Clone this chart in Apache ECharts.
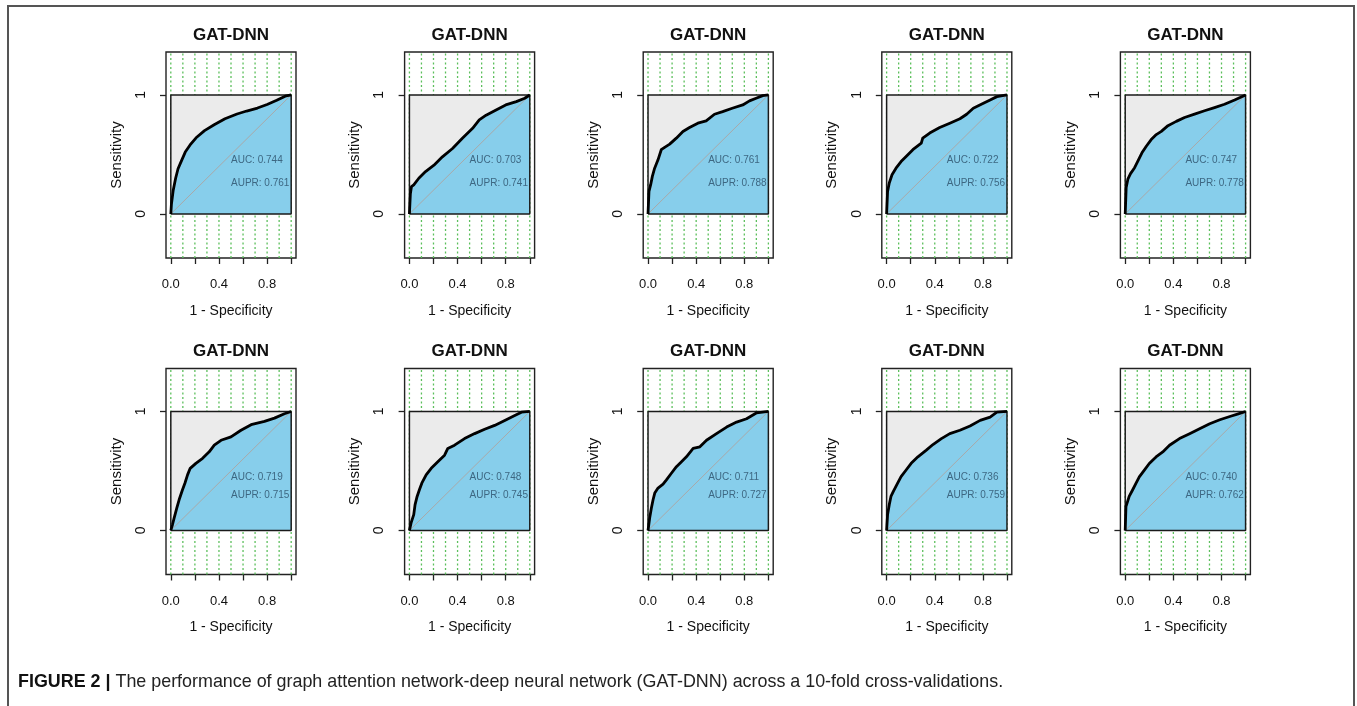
<!DOCTYPE html>
<html><head><meta charset="utf-8">
<script src="https://cdn.jsdelivr.net/npm/echarts@6/dist/echarts.min.js"></script>
<style>html,body{margin:0;padding:0;background:#fff}#c{width:1357px;height:706px}</style>
</head><body><div id="c"></div>
<script>
// ---------- data ----------
const panelTitles = ['GAT-DNN','GAT-DNN','GAT-DNN','GAT-DNN','GAT-DNN','GAT-DNN','GAT-DNN','GAT-DNN','GAT-DNN','GAT-DNN'];
const aucValues  = ['0.744','0.703','0.761','0.722','0.747','0.719','0.748','0.711','0.736','0.740'];
const auprValues = ['0.761','0.741','0.788','0.756','0.778','0.715','0.745','0.727','0.759','0.762'];
const xTickValues = [0, 0.2, 0.4, 0.6, 0.8, 1];
const xLabelValues = [0, 0.4, 0.8];
const yTickValues = [0, 1];
const gridLineValues = [0, 0.1, 0.2, 0.3, 0.4, 0.5, 0.6, 0.7, 0.8, 0.9, 1];
const diagonal = [[0,0],[1,1]];
const unitBoxTop = [[0,1],[1,1]];
const unitBoxOutline = [[0,0],[0,1],[1,1],[1,0],[0,0]];

const roc1 = [[0,0],[0.005,0.08],[0.02,0.2],[0.04,0.3],[0.06,0.38],[0.09,0.45],[0.12,0.52],[0.16,0.58],[0.21,0.64],[0.28,0.7],[0.36,0.75],[0.45,0.8],[0.55,0.84],[0.63,0.865],[0.72,0.89],[0.8,0.92],[0.88,0.955],[0.95,0.99],[1,1]];
const roc2 = [[0,0],[0.008,0.17],[0.017,0.23],[0.036,0.245],[0.078,0.3],[0.134,0.356],[0.204,0.41],[0.274,0.48],[0.358,0.55],[0.44,0.636],[0.525,0.72],[0.58,0.79],[0.637,0.83],[0.72,0.874],[0.8,0.916],[0.888,0.944],[0.958,0.972],[1,1]];
const roc3 = [[0,0],[0.008,0.19],[0.022,0.246],[0.036,0.316],[0.055,0.385],[0.083,0.455],[0.11,0.54],[0.138,0.56],[0.18,0.587],[0.235,0.637],[0.29,0.693],[0.345,0.726],[0.414,0.763],[0.483,0.782],[0.552,0.838],[0.62,0.86],[0.7,0.888],[0.787,0.916],[0.843,0.95],[0.898,0.972],[0.953,0.994],[1,1]];
const roc4 = [[0,0],[0.008,0.19],[0.022,0.26],[0.045,0.33],[0.078,0.385],[0.12,0.44],[0.162,0.483],[0.218,0.54],[0.288,0.595],[0.3,0.637],[0.358,0.68],[0.441,0.726],[0.525,0.763],[0.609,0.8],[0.665,0.838],[0.72,0.888],[0.804,0.93],[0.86,0.958],[0.916,0.986],[1,1]];
const roc5 = [[0,0],[0.008,0.222],[0.022,0.292],[0.044,0.339],[0.078,0.389],[0.105,0.444],[0.139,0.514],[0.175,0.569],[0.216,0.625],[0.258,0.667],[0.3,0.694],[0.355,0.742],[0.424,0.778],[0.493,0.811],[0.576,0.839],[0.659,0.867],[0.742,0.894],[0.825,0.922],[0.909,0.958],[1,1]];
const roc6 = [[0,0],[0.014,0.05],[0.028,0.106],[0.05,0.189],[0.069,0.258],[0.097,0.342],[0.117,0.397],[0.139,0.467],[0.161,0.522],[0.208,0.564],[0.264,0.606],[0.319,0.661],[0.361,0.717],[0.417,0.758],[0.5,0.786],[0.583,0.842],[0.667,0.889],[0.778,0.917],[0.861,0.944],[0.944,0.981],[1,1]];
const roc7 = [[0,0],[0.014,0.064],[0.036,0.133],[0.047,0.217],[0.064,0.286],[0.083,0.342],[0.103,0.397],[0.139,0.467],[0.181,0.522],[0.236,0.578],[0.292,0.633],[0.319,0.689],[0.375,0.717],[0.458,0.772],[0.542,0.814],[0.625,0.85],[0.708,0.883],[0.792,0.925],[0.875,0.967],[0.931,0.994],[1,1]];
const roc8 = [[0,0],[0.014,0.106],[0.028,0.189],[0.042,0.258],[0.056,0.314],[0.083,0.356],[0.125,0.389],[0.153,0.425],[0.194,0.481],[0.236,0.536],[0.278,0.578],[0.319,0.619],[0.375,0.689],[0.431,0.703],[0.486,0.758],[0.569,0.814],[0.653,0.869],[0.736,0.911],[0.819,0.939],[0.903,0.989],[1,1]];
const roc9 = [[0,0],[0.008,0.133],[0.022,0.217],[0.036,0.286],[0.056,0.328],[0.084,0.383],[0.12,0.453],[0.162,0.508],[0.204,0.564],[0.26,0.619],[0.33,0.675],[0.385,0.722],[0.455,0.772],[0.525,0.814],[0.609,0.842],[0.693,0.878],[0.777,0.925],[0.86,0.953],[0.916,0.994],[1,1]];
const roc10 = [[0,0],[0.006,0.2],[0.02,0.245],[0.033,0.287],[0.061,0.34],[0.089,0.395],[0.117,0.45],[0.159,0.507],[0.2,0.563],[0.256,0.618],[0.312,0.66],[0.368,0.716],[0.451,0.772],[0.535,0.813],[0.618,0.855],[0.702,0.897],[0.786,0.93],[0.869,0.958],[0.939,0.98],[1,1]];
const rocCurves = [roc1, roc2, roc3, roc4, roc5, roc6, roc7, roc8, roc9, roc10];
const captionBold = 'FIGURE 2 |';
const captionText = ' The performance of graph attention network-deep neural network (GAT-DNN) across a 10-fold cross-validations.';

// ---------- layout ----------
const FONT = '"Liberation Sans", Arial, Helvetica, sans-serif';
const X_MIN = -0.04, X_MAX = 1.04, Y_MIN = -0.37, Y_MAX = 1.361;
const GRID_W = 130, GRID_H = 206;
const colLeft = c => 166 + 238.6 * c;
const rowTop = r => 52 + 316.5 * r;
const aucTextY = [[0.45, 0.26], [0.45, 0.30]];

// vertical dotted guide lines (gaps between them via '-')
const guideData = [];
gridLineValues.forEach(v => { guideData.push([v, Y_MIN], [v, Y_MAX], [v, '-']); });

const grids = [], xAxes = [], yAxes = [], series = [], graphics = [];
rocCurves.forEach((roc, i) => {
  const r = Math.floor(i / 5), c = i % 5;
  const left = colLeft(c), top = rowTop(r);
  grids.push({ left, top, width: GRID_W, height: GRID_H, show: true, borderColor: '#222', borderWidth: 1.4, backgroundColor: 'transparent' });
  xAxes.push({
    type: 'value', gridIndex: i, min: X_MIN, max: X_MAX,
    axisLine: { show: false, onZero: false },
    splitLine: { show: false }, minorSplitLine: { show: false }, minorTick: { show: false },
    axisTick: { show: true, customValues: xTickValues, length: 6, lineStyle: { color: '#222', width: 1.3 } },
    axisLabel: { show: true, customValues: xLabelValues, formatter: v => v.toFixed(1), margin: 20, fontSize: 13, color: '#111', fontFamily: FONT },
    name: '1 - Specificity', nameLocation: 'middle', nameGap: 46,
    nameTextStyle: { fontSize: 14, color: '#111', fontFamily: FONT }
  });
  yAxes.push({
    type: 'value', gridIndex: i, min: Y_MIN, max: Y_MAX,
    axisLine: { show: false, onZero: false },
    splitLine: { show: false }, minorSplitLine: { show: false }, minorTick: { show: false },
    axisTick: { show: true, customValues: yTickValues, length: 6, lineStyle: { color: '#222', width: 1.3 } },
    axisLabel: { show: true, customValues: yTickValues, formatter: v => String(v), rotate: 90, margin: 18, fontSize: 14, color: '#111', fontFamily: FONT },
    name: 'Sensitivity', nameLocation: 'middle', nameGap: 42,
    nameTextStyle: { fontSize: 15, color: '#111', fontFamily: FONT }
  });
  // green dotted verticals
  series.push({
    type: 'line', xAxisIndex: i, yAxisIndex: i, data: guideData, silent: true, z: 1,
    symbol: 'none', connectNulls: false,
    lineStyle: { color: '#5cbf5c', type: [2, 2.5], width: 1.3 }
  });
  // grey unit square
  series.push({
    type: 'line', xAxisIndex: i, yAxisIndex: i, data: unitBoxTop, silent: true, z: 2,
    symbol: 'none', lineStyle: { width: 0, opacity: 0 },
    areaStyle: { color: '#ebebeb', opacity: 1, origin: 'auto' }
  });
  // blue area under ROC
  series.push({
    type: 'line', xAxisIndex: i, yAxisIndex: i, data: roc, silent: true, z: 3,
    symbol: 'none', lineStyle: { width: 0, opacity: 0 },
    areaStyle: { color: '#87ceeb', opacity: 1, origin: 'auto' }
  });
  // diagonal
  series.push({
    type: 'line', xAxisIndex: i, yAxisIndex: i, data: diagonal, silent: true, z: 4,
    symbol: 'none', lineStyle: { color: '#a9a9a9', width: 1 }
  });
  // unit square outline
  series.push({
    type: 'line', xAxisIndex: i, yAxisIndex: i, data: unitBoxOutline, silent: true, z: 5,
    symbol: 'none', lineStyle: { color: '#1a1a1a', width: 1.5 }
  });
  // ROC curve
  series.push({
    type: 'line', xAxisIndex: i, yAxisIndex: i, data: roc, silent: true, z: 6,
    symbol: 'none', lineStyle: { color: '#000', width: 2.8, join: 'round' }
  });
  // AUC / AUPR text
  series.push({
    type: 'scatter', xAxisIndex: i, yAxisIndex: i, silent: true, z: 7, symbolSize: 0,
    label: { show: true, position: 'right', distance: 0, fontSize: 10, color: '#2a4d68', fontFamily: FONT },
    data: [
      { value: [0.5, aucTextY[r][0]], label: { formatter: 'AUC: ' + aucValues[i] } },
      { value: [0.5, aucTextY[r][1]], label: { formatter: 'AUPR: ' + auprValues[i] } }
    ]
  });
  graphics.push({
    type: 'text', x: left + GRID_W / 2, y: 35 + 316.5 * r, silent: true,
    style: { text: panelTitles[i], fill: '#111', font: 'bold 17px ' + FONT, textAlign: 'center', textVerticalAlign: 'middle' }
  });
});

graphics.push({
  type: 'polyline', silent: true,
  shape: { points: [[8, 706], [8, 6], [1354, 6], [1354, 706]] },
  style: { stroke: '#555', lineWidth: 2, fill: null }
});
graphics.push({
  type: 'text', x: 18, y: 682, silent: true,
  style: {
    text: '{b|' + captionBold + '}' + captionText,
    font: '17.9px ' + FONT, fill: '#222', textVerticalAlign: 'middle',
    rich: { b: { fontWeight: 'bold', fontSize: 17.9, fontFamily: FONT, fill: '#111' } }
  }
});

const chart = echarts.init(document.getElementById('c'));
chart.setOption({
  animation: false,
  backgroundColor: '#fff',
  grid: grids, xAxis: xAxes, yAxis: yAxes, series,
  graphic: graphics
});
</script></body></html>
